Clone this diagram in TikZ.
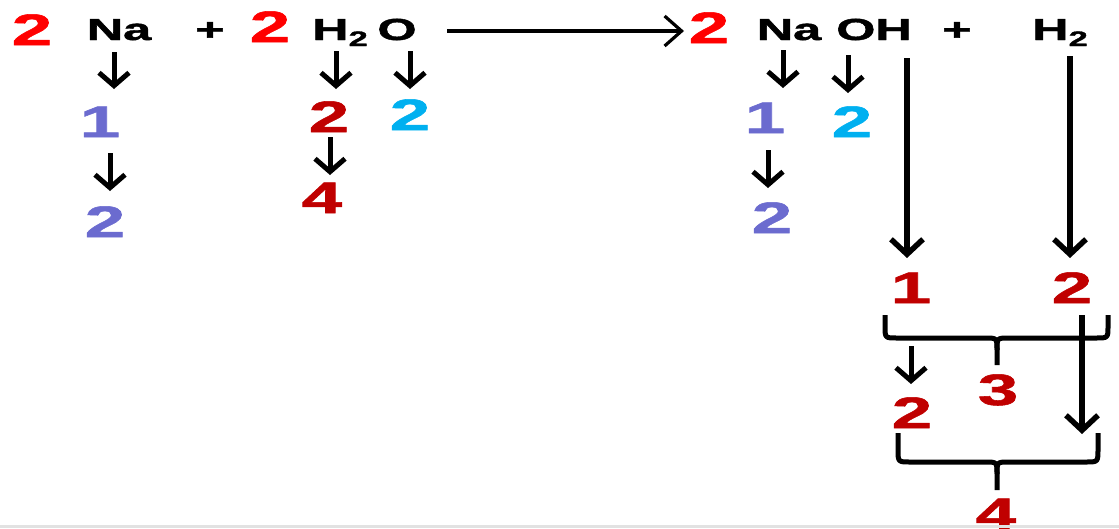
\documentclass[tikz,border=0pt]{standalone}
\usepackage{fontspec}
\setmainfont{Liberation Sans}[BoldFeatures={FakeBold=1.2}]
\usetikzlibrary{arrows.meta}
\definecolor{bred}{HTML}{FF0000}
\definecolor{dred}{HTML}{C00000}
\definecolor{purp}{HTML}{6B6BCF}
\definecolor{cyanb}{HTML}{00B0F0}
\definecolor{lgray}{HTML}{E2E2E2}
\newcommand\W[1]{\scalebox{1.65}[1]{#1}}
\newcommand\sub[1]{\raisebox{-6pt}{\fontsize{21}{21}\selectfont #1}}
\tikzset{
  dig/.style={font=\fontsize{44}{44}\selectfont\bfseries, inner sep=0pt, anchor=base},
  chem/.style={font=\fontsize{30.5}{30.5}\selectfont\bfseries, inner sep=0pt, anchor=base},
  sarr/.style={line width=5pt, -{Straight Barb[length=13pt,width=30pt]}},
  larr/.style={line width=5.5pt, -{Straight Barb[length=15pt,width=32pt]}},
  harr/.style={line width=3.2pt, -{Straight Barb[length=17pt,width=30pt]}},
  brace/.style={line width=5pt, line join=round, line cap=butt}
}
\begin{document}
\begin{tikzpicture}[x=1pt,y=-1pt]
\useasboundingbox (0,0) rectangle (1119,528);
\begin{scope}
\clip (0,0) rectangle (1119,528);
% top equation
\node[dig, text=bred] (c1) at (32,45) {\W{2}};
\node[chem] (na1) at (119,40) {\W{Na}};
\node[chem] (pl1) at (210,40) {\W{+}};
\node[dig, text=bred] (c2) at (270,42) {\W{2}};
\node[chem] (h2o) at (340,40) {\W{H\sub{2}}};
\node[chem] (o1) at (397,40) {\W{O}};
\node[dig, text=bred] (c3) at (709,43) {\W{2}};
\node[chem] (na2) at (789,40) {\W{Na}};
\node[chem] (oh) at (874,40) {\W{OH}};
\node[chem] (pl2) at (957,40) {\W{+}};
\node[chem] (h2) at (1060,40) {\W{H\sub{2}}};
\coordinate (hs) at (447,31);
\coordinate (he) at (684,31);
\draw[harr] (hs) -- (he);

% left column Na
\node[dig, text=purp] (p1) at (100,137) {\W{1}};
\node[dig, text=purp] (p2) at (105,237) {\W{2}};
\coordinate (a1s) at (114,52); \coordinate (a1e) at (114,89);
\draw[sarr] (a1s) -- (a1e);
\coordinate (a2s) at (110,153); \coordinate (a2e) at (110,191);
\draw[sarr] (a2s) -- (a2e);

% H2O columns
\node[dig, text=dred] (r2) at (329,132) {\W{2}};
\node[dig, text=dred] (r4) at (322,213) {\W{4}};
\node[dig, text=cyanb] (cy1) at (410,130) {\W{2}};
\coordinate (a3s) at (336,51); \coordinate (a3e) at (336,89);
\draw[sarr] (a3s) -- (a3e);
\coordinate (a4s) at (410,51); \coordinate (a4e) at (410,89);
\draw[sarr] (a4s) -- (a4e);
\coordinate (a5s) at (330,137); \coordinate (a5e) at (330,175);
\draw[sarr] (a5s) -- (a5e);

% right NaOH
\node[dig, text=purp] (p3) at (765,133) {\W{1}};
\node[dig, text=purp] (p4) at (772,233) {\W{2}};
\node[dig, text=cyanb] (cy2) at (852,137) {\W{2}};
\coordinate (a6s) at (783,50); \coordinate (a6e) at (783,88);
\draw[sarr] (a6s) -- (a6e);
\coordinate (a7s) at (848,55); \coordinate (a7e) at (848,93);
\draw[sarr] (a7s) -- (a7e);
\coordinate (a8s) at (768,150); \coordinate (a8e) at (768,188);
\draw[sarr] (a8s) -- (a8e);

% long arrows
\coordinate (l1s) at (907,58); \coordinate (l1e) at (907,258);
\draw[larr] (l1s) -- (l1e);
\coordinate (l2s) at (1070,56); \coordinate (l2e) at (1070,258);
\draw[larr] (l2s) -- (l2e);

% bottom
\node[dig, text=dred] (b1) at (911,303) {\W{1}};
\node[dig, text=dred] (b2) at (1072,303) {\W{2}};
\node[dig, text=dred] (b3) at (998,405) {\W{3}};
\node[dig, text=dred] (b22) at (912,428) {\W{2}};
\node[dig, text=dred] (b4) at (996,529) {\W{4}};

% brace 1
\draw[brace] (885,315) -- (885,326) .. controls (885,338) .. (897,338) -- (985,338) .. controls (997,338) .. (997,350) -- (997,365);
\draw[brace] (1108,315) -- (1108,326) .. controls (1108,338) .. (1096,338) -- (1009,338) .. controls (997,338) .. (997,350);
% brace 2
\draw[brace] (898,433) -- (898,449) .. controls (898,462) .. (910,462) -- (985,462) .. controls (997,462) .. (997,474) -- (997,490);
\draw[brace] (1098,433) -- (1098,449) .. controls (1098,462) .. (1086,462) -- (1009,462) .. controls (997,462) .. (997,474);

\coordinate (a9s) at (911,346); \coordinate (a9e) at (911,384);
\draw[sarr] (a9s) -- (a9e);
\coordinate (a10s) at (1082,315); \coordinate (a10e) at (1082,434);
\draw[larr] (a10s) -- (a10e);

\fill[lgray] (0,525) rectangle (1119,528);
\end{scope}
\end{tikzpicture}
\end{document}
